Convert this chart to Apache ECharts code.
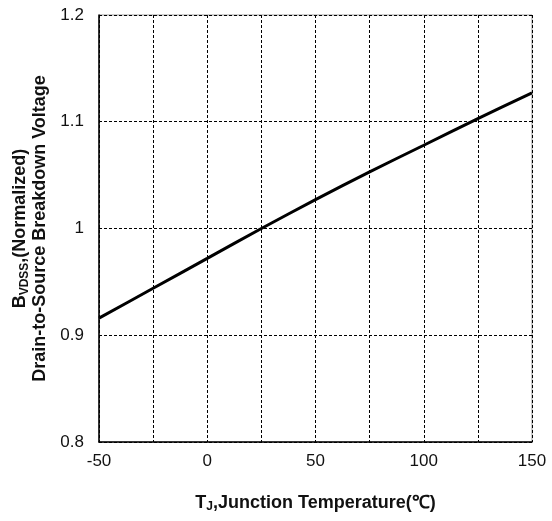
<!DOCTYPE html>
<html><head><meta charset="utf-8">
<script src="https://cdn.jsdelivr.net/npm/echarts@6/dist/echarts.min.js"></script>
<style>html,body{margin:0;padding:0;background:#fff}#c{width:552px;height:521px}</style>
</head><body><div id="c"></div>
<script>
const temps = [-50, -25, 0, 25, 50, 75, 100, 125, 150];
const bvdss = [0.916, 0.944, 0.972, 1.000, 1.027, 1.053, 1.078, 1.103, 1.127];
const xTicks = [-50, 0, 50, 100, 150];
const yTicks = [0.8, 0.9, 1, 1.1, 1.2];

const chart = echarts.init(document.getElementById('c'));
const font = 'Liberation Sans, Arial, sans-serif';
const gridDash = {color: '#000', width: 1, type: [3, 2]};
chart.setOption({
  animation: false,
  grid: {left: 99, top: 15, right: 20, bottom: 79, show: true, borderColor: '#999', borderWidth: 1, containLabel: false},
  xAxis: {
    type: 'value', min: -50, max: 150, interval: 25,
    axisLine: {show: true, onZero: false, lineStyle: {color: '#000', width: 1.5}},
    axisTick: {show: false},
    splitLine: {show: true, lineStyle: gridDash},
    axisLabel: {color: '#111', fontFamily: font, fontSize: 17, margin: 11,
      formatter: v => xTicks.includes(v) ? String(v) : ''},
    name: '{b|T}{s|J}{b|,Junction Temperature(℃)}',
    nameLocation: 'middle', nameGap: 52,
    nameTextStyle: {rich: {
      b: {fontFamily: font, fontWeight: 'bold', fontSize: 18, color: '#111'},
      s: {fontFamily: font, fontWeight: 'bold', fontSize: 12, color: '#111', verticalAlign: 'bottom', padding: [7,0,0,0]}
    }}
  },
  yAxis: {
    type: 'value', min: 0.8, max: 1.2, interval: 0.1,
    axisLine: {show: true, onZero: false, lineStyle: {color: '#000', width: 1.5}},
    axisTick: {show: false},
    splitLine: {show: true, lineStyle: gridDash},
    axisLabel: {color: '#111', fontFamily: font, fontSize: 17, margin: 15,
      formatter: v => { const t = yTicks.find(k => Math.abs(k - v) < 1e-6); return t === undefined ? '' : String(t); }},
    name: '{b|B}{s|VDSS}{b|,(Normalized)}\n{b|Drain-to-Source Breakdown Voltage}',
    nameLocation: 'middle', nameGap: 46, nameRotate: 90,
    nameTextStyle: {align: 'center', rich: {
      b: {fontFamily: font, fontWeight: 'bold', fontSize: 18, color: '#111', lineHeight: 20},
      s: {fontFamily: font, fontWeight: 'bold', fontSize: 12, color: '#111', lineHeight: 20, verticalAlign: 'bottom'}
    }}
  },
  series: [{
    type: 'line', data: temps.map((t, i) => [t, bvdss[i]]),
    smooth: 0.3, symbol: 'none', lineStyle: {color: '#000', width: 3}
  }]
});
</script></body></html>
